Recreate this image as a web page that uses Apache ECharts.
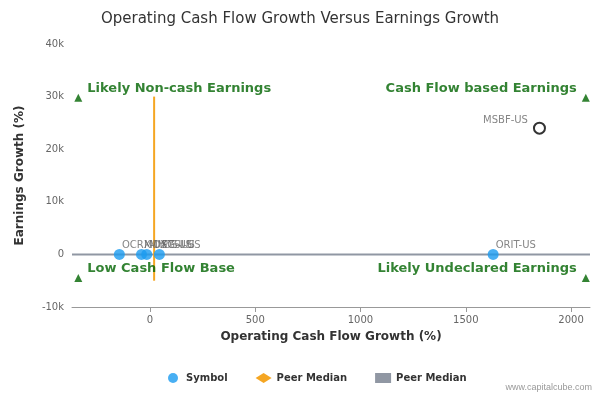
<!DOCTYPE html>
<html>
<head>
<meta charset="utf-8">
<script src="https://cdn.jsdelivr.net/npm/echarts@6/dist/echarts.min.js"></script>
</head>
<body style="margin:0">
<div id="main" style="width:600px;height:400px;"></div>
<script>
var symbols = ['OCRX-US', 'MDXG-US', 'MYOS-US', 'PTSI-US', 'ORIT-US'];
var cashFlowGrowth = [-145, -40, -15, 45, 1630];
var earningsGrowth = [0, 0, 0, 0, 0];
var highlight = { name: 'MSBF-US', x: 1850, y: 24000 };
var peerMedianX = 20;
var peerMedianY = 0;
var quadrants = [
    { text: 'Likely Non-cash Earnings', x: -340, y: 29800, pos: 'right' },
    { text: 'Cash Flow based Earnings', x: 2070, y: 29800, pos: 'left' },
    { text: 'Low Cash Flow Base', x: -340, y: -4500, pos: 'right' },
    { text: 'Likely Undeclared Earnings', x: 2070, y: -4500, pos: 'left' }
];
var xTicks = [0, 500, 1000, 1500, 2000];

var chart = echarts.init(document.getElementById('main'));
var pts = symbols.map(function (s, i) { return { name: s, value: [cashFlowGrowth[i], earningsGrowth[i]] }; });
var labelColor = '#666';

chart.setOption({
    textStyle: { fontFamily: 'DejaVu Sans' },
    title: { text: 'Operating Cash Flow Growth Versus Earnings Growth', left: 'center', top: 7,
        textStyle: { fontSize: 15, color: '#333', fontWeight: 'normal' } },
    legend: {
        bottom: 12, left: 163, itemGap: 28, itemWidth: 16, itemHeight: 10,
        textStyle: { fontWeight: 'bold', color: '#333', fontSize: 10 },
        data: [{ name: 'Symbol', icon: 'circle' }, { name: 'Peer Median', icon: 'diamond' }, { name: 'Peer Median ', icon: 'rect' }]
    },
    graphic: [{ type: 'text', right: 8, bottom: 8, style: { text: 'www.capitalcube.com', fill: '#999', fontSize: 9 } }],
    grid: { left: 72, right: 10, top: 44, bottom: 93 },
    xAxis: {
        type: 'value', min: -370, max: 2090,
        name: 'Operating Cash Flow Growth (%)', nameLocation: 'middle', nameGap: 24,
        nameTextStyle: { fontWeight: 'bold', fontSize: 12, color: '#333' },
        axisLine: { show: true, onZero: false, lineStyle: { color: '#999' } },
        axisTick: { show: true, customValues: xTicks },
        axisLabel: { customValues: xTicks, color: labelColor, fontSize: 10, formatter: function (v) { return String(v); } },
        splitLine: { show: false }
    },
    yAxis: {
        type: 'value', min: -10000, max: 40000, interval: 10000,
        name: 'Earnings Growth (%)', nameLocation: 'middle', nameGap: 46,
        nameTextStyle: { fontWeight: 'bold', fontSize: 12, color: '#333' },
        axisLine: { show: false }, axisTick: { show: false },
        axisLabel: { color: labelColor, fontSize: 10, formatter: function (v) { return v === 0 ? '0' : (v / 1000) + 'k'; } },
        splitLine: { show: false }
    },
    series: [
        {
            name: 'Peer Median ', type: 'line', symbol: 'none', color: '#9097a3', lineStyle: { width: 2, color: '#9097a3' },
            data: [[-370, peerMedianY], [2090, peerMedianY]], z: 1
        },
        {
            name: 'Peer Median', type: 'line', symbol: 'none', color: '#f5a623', lineStyle: { width: 2, color: '#f5a623' },
            data: [[peerMedianX, -5000], [peerMedianX, 30000]], z: 2
        },
        {
            name: 'Symbol', type: 'scatter', symbolSize: 11, color: '#1a9bf0', z: 3,
            label: { show: true, position: 'right', formatter: '{b}', color: labelColor, fontSize: 10, offset: [-8, -9] },
            data: pts
        },
        {
            name: 'hl', type: 'scatter', symbolSize: 11, z: 3,
            itemStyle: { color: '#fff', borderColor: '#000', borderWidth: 2 },
            label: { show: true, position: 'left', formatter: '{b}', color: labelColor, fontSize: 10, offset: [0, -8] },
            data: [{ name: highlight.name, value: [highlight.x, highlight.y] }]
        },
        {
            name: 'quad', type: 'scatter', symbol: 'triangle', symbolSize: 8, color: '#006400', z: 3,
            label: { show: true, formatter: '{b}', color: '#006400', fontWeight: 'bold', fontSize: 13, offset: [0, -9] },
            data: quadrants.map(function (q) { return { name: q.text, value: [q.x, q.y], label: { position: q.pos } }; })
        }
    ]
});
</script>
</body>
</html>
